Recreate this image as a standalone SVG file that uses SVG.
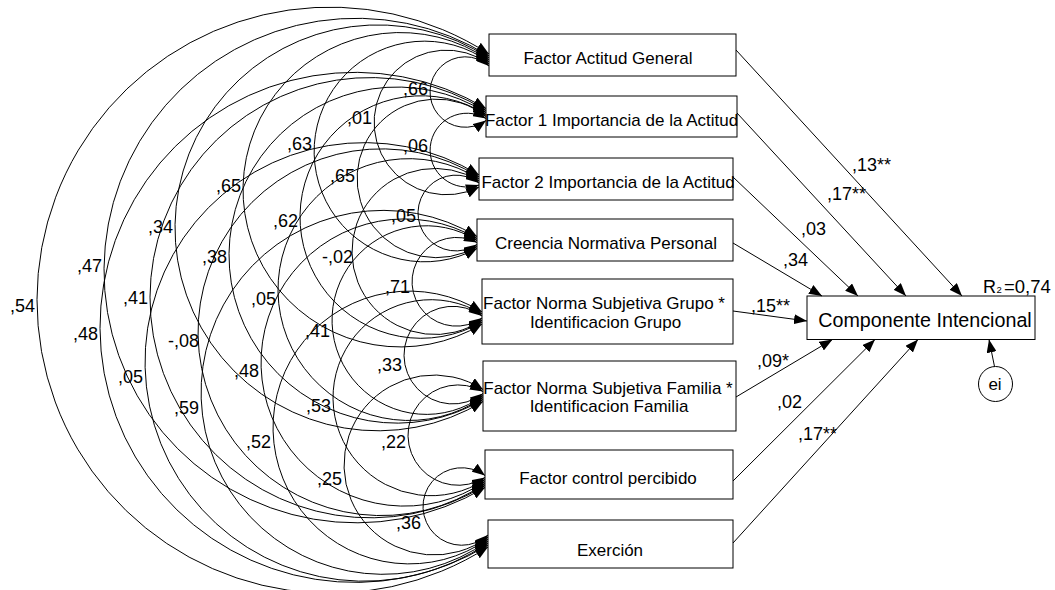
<svg xmlns="http://www.w3.org/2000/svg" width="1055" height="590" viewBox="0 0 1055 590">
  <defs>
    <marker id="ah" viewBox="0 0 13 10" refX="13" refY="5" markerWidth="13" markerHeight="10" markerUnits="userSpaceOnUse" orient="auto-start-reverse">
      <path d="M0,0 L13,5 L0,10 z" fill="#000"/>
    </marker>
    <style>
      .box { fill: #fff; stroke: #000; stroke-width: 1; }
      .t { font-family: "Liberation Sans", Arial, sans-serif; font-size: 17px; fill: #000; text-anchor: middle; }
      .big { font-size: 19.7px; }
      .n { font-family: "Liberation Sans", Arial, sans-serif; font-size: 18px; fill: #000; }
      .cov { fill: none; stroke: #000; stroke-width: 1; marker-start: url(#ah); marker-end: url(#ah); }
      .reg { fill: none; stroke: #000; stroke-width: 1; marker-end: url(#ah); }
    </style>
  </defs>
  <rect width="1055" height="590" fill="#fff"/>

  <!-- observed variables -->
  <g id="actitud-general">
    <rect class="box" x="489" y="34" width="247" height="42"/>
    <text class="t" x="608" y="63.5">Factor Actitud General</text>
  </g>
  <g id="importancia-1">
    <rect class="box" x="486" y="96" width="251" height="41"/>
    <text class="t" x="611.5" y="126">Factor 1 Importancia de la Actitud</text>
  </g>
  <g id="importancia-2">
    <rect class="box" x="479" y="158" width="254" height="42"/>
    <text class="t" x="608" y="187.5">Factor 2 Importancia de la Actitud</text>
  </g>
  <g id="creencia-normativa">
    <rect class="box" x="477" y="219" width="256" height="42"/>
    <text class="t" x="606" y="248.5">Creencia Normativa Personal</text>
  </g>
  <g id="norma-grupo">
    <rect class="box" x="482" y="279" width="251" height="65"/>
    <text class="t" x="604" y="308.5">Factor Norma Subjetiva Grupo *</text>
    <text class="t" x="605.5" y="327.5">Identificacion Grupo</text>
  </g>
  <g id="norma-familia">
    <rect class="box" x="483" y="361" width="253" height="70"/>
    <text class="t" x="608" y="393.5">Factor Norma Subjetiva Familia *</text>
    <text class="t" x="609" y="412">Identificacion Familia</text>
  </g>
  <g id="control-percibido">
    <rect class="box" x="485" y="450" width="248" height="49"/>
    <text class="t" x="608" y="483.5">Factor control percibido</text>
  </g>
  <g id="exercion">
    <rect class="box" x="488" y="520" width="245" height="48"/>
    <text class="t" x="610" y="556">Exerción</text>
  </g>

  <!-- endogenous variable and its error -->
  <g id="componente-intencional">
    <rect class="box" x="807" y="296" width="228" height="43.5"/>
    <text class="t big" x="925" y="327">Componente Intencional</text>
    <text class="n" y="293.3"><tspan x="983">R</tspan><tspan x="996.5" font-size="9.5">2</tspan><tspan x="1004" font-size="18.5">=0,74</tspan></text>
  </g>
  <g id="ei">
    <ellipse cx="995.5" cy="384" rx="17" ry="17.5" fill="#fff" stroke="#000" stroke-width="1"/>
    <text class="t" x="995" y="390" font-size="17">ei</text>
  </g>

  <!-- connectors -->
  <g id="connectors">
    <!-- regression paths -->
    <path class="reg" d="M736,50 L962,296"/>
    <path class="reg" d="M737,113 L906,296"/>
    <path class="reg" d="M733,177 L858,296"/>
    <path class="reg" d="M733,243 L822,296"/>
    <path class="reg" d="M733,311 L807,321"/>
    <path class="reg" d="M736,397 L832.5,339.5"/>
    <path class="reg" d="M733,481 L875,339.5"/>
    <path class="reg" d="M733,543 L918,339.5"/>
    <path class="reg" d="M994.5,366.5 L989,339.5"/>

    <!-- covariances between the predictors -->
    <path class="cov" d="M489,66 A35.23,35.23 0 1 0 486,120.5"/>
    <path class="cov" d="M486,118.5 A36.89,36.89 0 1 0 479,185"/>
    <path class="cov" d="M479,183 A37.89,37.89 0 1 0 477,244.5"/>
    <path class="cov" d="M477,242.5 A44.35,44.35 0 1 0 482,318"/>
    <path class="cov" d="M482,316 A48.81,48.81 0 1 0 483,393.5"/>
    <path class="cov" d="M483,391.5 A50.17,50.17 0 1 0 485,477.5"/>
    <path class="cov" d="M485,475.5 A38.74,38.74 0 1 0 488,535"/>
    <path class="cov" d="M489,64 A72.31,72.31 0 1 0 479,187"/>
    <path class="cov" d="M486,116.5 A79.3,79.3 0 1 0 477,246.5"/>
    <path class="cov" d="M479,181 A83.06,83.06 0 1 0 482,320"/>
    <path class="cov" d="M477,240.5 A94.32,94.32 0 1 0 483,395.5"/>
    <path class="cov" d="M482,314 A98,98 0 1 0 485,479.5"/>
    <path class="cov" d="M483,389.5 A89.99,89.99 0 1 0 488,537"/>
    <path class="cov" d="M489,62 A110.33,110.33 0 1 0 477,248.5"/>
    <path class="cov" d="M486,114.5 A121.26,121.26 0 1 0 482,322"/>
    <path class="cov" d="M479,179 A130.91,130.91 0 1 0 483,397.5"/>
    <path class="cov" d="M477,238.5 A143.59,143.59 0 1 0 485,481.5"/>
    <path class="cov" d="M482,312 A136.4,136.4 0 1 0 488,539"/>
    <path class="cov" d="M489,60 A157.2,157.2 0 1 0 482,324"/>
    <path class="cov" d="M486,112.5 A168.05,168.05 0 1 0 483,399.5"/>
    <path class="cov" d="M479,177 A183.36,183.36 0 1 0 485,483.5"/>
    <path class="cov" d="M477,236.5 A181.97,181.97 0 1 0 488,541"/>
    <path class="cov" d="M489,58 A202.94,202.94 0 1 0 483,401.5"/>
    <path class="cov" d="M486,110.5 A220.14,220.14 0 1 0 485,485.5"/>
    <path class="cov" d="M479,175 A219.29,219.29 0 1 0 488,543"/>
    <path class="cov" d="M489,56 A252.27,252.27 0 1 0 485,487.5"/>
    <path class="cov" d="M486,108.5 A255.04,255.04 0 1 0 488,545"/>
    <path class="cov" d="M489,54 A293.04,293.04 0 1 0 488,547"/>
  </g>

  <!-- path coefficients -->
  <g id="path-labels">
    <text class="n" x="852" y="171">,13**</text>
    <text class="n" x="827" y="200">,17**</text>
    <text class="n" x="801" y="235">,03</text>
    <text class="n" x="783" y="266">,34</text>
    <text class="n" x="751" y="312">,15**</text>
    <text class="n" x="757" y="367">,09*</text>
    <text class="n" x="777" y="408">,02</text>
    <text class="n" x="798" y="440">,17**</text>
  </g>

  <!-- correlation coefficients -->
  <g id="cov-labels">
    <text class="n" x="403" y="95">,66</text>
    <text class="n" x="403" y="152">,06</text>
    <text class="n" x="391" y="222">,05</text>
    <text class="n" x="385" y="293">,71</text>
    <text class="n" x="377" y="371">,33</text>
    <text class="n" x="381" y="448">,22</text>
    <text class="n" x="396" y="529">,36</text>
    <text class="n" x="347" y="124">,01</text>
    <text class="n" x="330" y="182">,65</text>
    <text class="n" x="322" y="263">-,02</text>
    <text class="n" x="305" y="337">,41</text>
    <text class="n" x="306" y="412">,53</text>
    <text class="n" x="317" y="485">,25</text>
    <text class="n" x="287" y="150">,63</text>
    <text class="n" x="273" y="227">,62</text>
    <text class="n" x="251" y="305">,05</text>
    <text class="n" x="234" y="377">,48</text>
    <text class="n" x="246" y="448">,52</text>
    <text class="n" x="216" y="192">,65</text>
    <text class="n" x="202" y="263">,38</text>
    <text class="n" x="168" y="347">-,08</text>
    <text class="n" x="174" y="414">,59</text>
    <text class="n" x="148" y="233">,34</text>
    <text class="n" x="123" y="304">,41</text>
    <text class="n" x="118" y="383">,05</text>
    <text class="n" x="77" y="272">,47</text>
    <text class="n" x="73" y="340">,48</text>
    <text class="n" x="10" y="312">,54</text>
  </g>
</svg>
